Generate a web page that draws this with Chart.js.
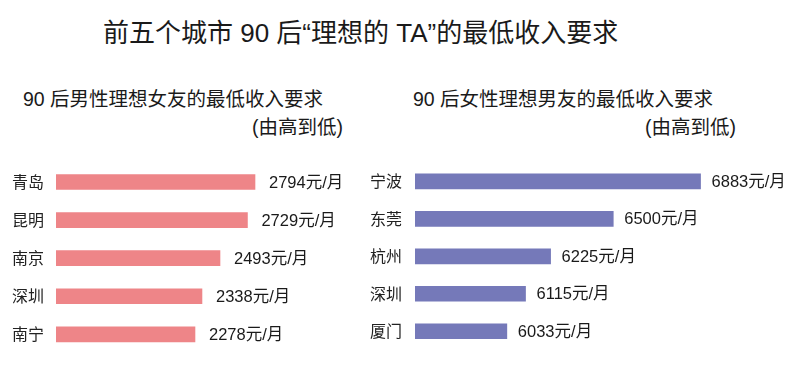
<!DOCTYPE html>
<html>
<head>
<meta charset="utf-8">
<script src="https://cdn.jsdelivr.net/npm/chart.js@4/dist/chart.umd.min.js"></script>
<style>
  body { margin: 0; background: #fff; }
  #wrap { position: relative; width: 800px; height: 366px; overflow: hidden;
    font-family: "Liberation Sans", "Noto Sans CJK SC", sans-serif; color: #1a1a1a; }
  .t { position: absolute; white-space: nowrap; line-height: 1; }
  canvas { position: absolute; }
</style>
</head>
<body>
<div id="wrap">
  <div class="t" style="left:103px; top:20px; font-size:26px;">前五个城市 90 后“理想的 TA”的最低收入要求</div>
  <div class="t" style="left:23px; top:90px; font-size:19.5px;">90 后男性理想女友的最低收入要求</div>
  <div class="t" style="left:252px; top:118px; font-size:19.5px;">(由高到低)</div>
  <div class="t" style="left:413px; top:90px; font-size:19.5px;">90 后女性理想男友的最低收入要求</div>
  <div class="t" style="left:645px; top:118px; font-size:19.5px;">(由高到低)</div>
  <canvas id="menChart" style="left:0px; top:150px;" width="400" height="216"></canvas>
  <canvas id="womenChart" style="left:355px; top:150px;" width="445" height="216"></canvas>
</div>
<script>
  // 男性理想女友的最低收入要求
  const menCities = ["青岛", "昆明", "南京", "深圳", "南宁"];
  const menIncome = [2794, 2729, 2493, 2338, 2278];
  // 女性理想男友的最低收入要求
  const womenCities = ["宁波", "东莞", "杭州", "深圳", "厦门"];
  const womenIncome = [6883, 6500, 6225, 6115, 6033];
  const unit = "元/月";

  const valueLabels = (offset) => ({
    id: "valueLabels",
    afterDatasetsDraw: (chart) => {
      const ctx = chart.ctx;
      const meta = chart.getDatasetMeta(0);
      ctx.save();
      ctx.font = '16.5px "Liberation Sans", "Noto Sans CJK SC"';
      ctx.fillStyle = "#1a1a1a";
      ctx.textAlign = "left";
      ctx.textBaseline = "middle";
      meta.data.forEach((bar, i) => {
        ctx.fillText(chart.data.datasets[0].data[i] + unit, bar.x + offset, bar.y + 1);
      });
      ctx.restore();
    },
  });

  function makeChart(id, cities, values, color, opts) {
    return new Chart(document.getElementById(id), {
      type: "bar",
      data: {
        labels: cities,
        datasets: [{ data: values, backgroundColor: color, barThickness: 15, borderWidth: 0 }],
      },
      options: {
        indexAxis: "y",
        responsive: false,
        animation: false,
        layout: { padding: opts.padding },
        plugins: { legend: { display: false }, tooltip: { enabled: false } },
        scales: {
          x: { display: false, min: opts.min, max: opts.max },
          y: {
            grid: { display: false },
            border: { display: false },
            ticks: {
              crossAlign: "far",
              color: "#222",
              font: { family: "Noto Sans CJK SC", size: 16 },
            },
            afterFit: (scale) => { scale.width = opts.axisWidth; },
          },
        },
      },
      plugins: [valueLabels(opts.offset)],
    });
  }

  makeChart("menChart", menCities, menIncome, "#ee8588", {
    min: 1083, max: 3800, axisWidth: 44, offset: 14,
    padding: { left: 12, right: 28, top: 13, bottom: 12 },
  });
  makeChart("womenChart", womenCities, womenIncome, "#7579b9", {
    min: 5630, max: 7100, axisWidth: 45, offset: 11,
    padding: { left: 15, right: 50, top: 11, bottom: 16 },
  });
</script>
</body>
</html>
